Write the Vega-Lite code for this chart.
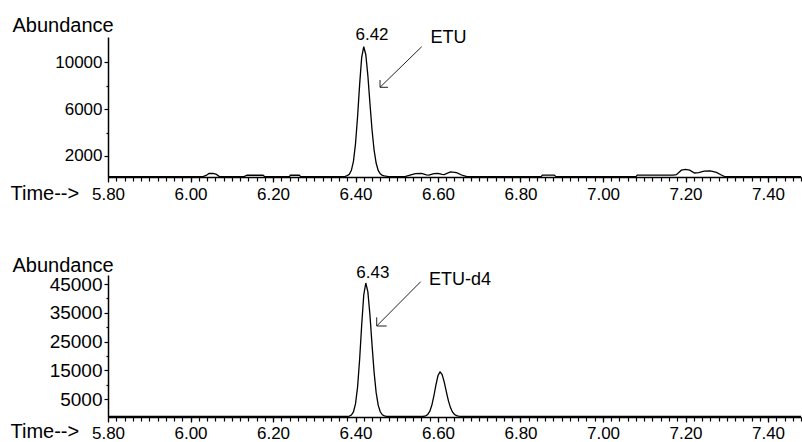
{
  "$schema": "https://vega.github.io/schema/vega-lite/v6.json",
  "autosize": {"type": "pad"},
  "padding": {"left": 10, "top": 15, "right": 1, "bottom": 0},
  "background": "white",
  "bounds": "flush",
  "spacing": 98,
  "config": {
    "font": "Liberation Sans",
    "view": {"stroke": null},
    "axis": {"grid": false, "domainColor": "black", "tickColor": "black", "labelColor": "black", "titleColor": "black", "titleFontWeight": "normal", "domainWidth": 1.5, "tickWidth": 1.2}
  },
  "datasets": {
    "etu": [
      {"t": 5.8, "a": 230}, {"t": 5.9, "a": 230}, {"t": 6.0, "a": 230}, {"t": 6.03, "a": 230},
      {"t": 6.038, "a": 330}, {"t": 6.045, "a": 500}, {"t": 6.055, "a": 510}, {"t": 6.063, "a": 420},
      {"t": 6.07, "a": 240}, {"t": 6.13, "a": 230}, {"t": 6.137, "a": 350}, {"t": 6.176, "a": 350},
      {"t": 6.18, "a": 230}, {"t": 6.24, "a": 230}, {"t": 6.242, "a": 350}, {"t": 6.264, "a": 350},
      {"t": 6.267, "a": 230}, {"t": 6.37, "a": 230}, {"t": 6.375, "a": 260}, {"t": 6.38, "a": 323},
      {"t": 6.385, "a": 438}, {"t": 6.39, "a": 765}, {"t": 6.395, "a": 1540}, {"t": 6.4, "a": 3031},
      {"t": 6.405, "a": 5341}, {"t": 6.41, "a": 8092}, {"t": 6.415, "a": 10413}, {"t": 6.42, "a": 11330},
      {"t": 6.425, "a": 10645}, {"t": 6.43, "a": 8844}, {"t": 6.435, "a": 6501}, {"t": 6.44, "a": 4258},
      {"t": 6.445, "a": 2523}, {"t": 6.45, "a": 1393}, {"t": 6.455, "a": 765}, {"t": 6.46, "a": 467},
      {"t": 6.465, "a": 343}, {"t": 6.47, "a": 290}, {"t": 6.48, "a": 235}, {"t": 6.52, "a": 230},
      {"t": 6.53, "a": 330}, {"t": 6.545, "a": 480}, {"t": 6.56, "a": 500}, {"t": 6.572, "a": 380},
      {"t": 6.578, "a": 360}, {"t": 6.59, "a": 480}, {"t": 6.6, "a": 500}, {"t": 6.61, "a": 420},
      {"t": 6.615, "a": 400}, {"t": 6.63, "a": 640}, {"t": 6.645, "a": 580}, {"t": 6.66, "a": 330},
      {"t": 6.67, "a": 230}, {"t": 6.85, "a": 230}, {"t": 6.853, "a": 360}, {"t": 6.882, "a": 360},
      {"t": 6.886, "a": 230}, {"t": 7.08, "a": 230}, {"t": 7.083, "a": 360}, {"t": 7.17, "a": 360},
      {"t": 7.178, "a": 400}, {"t": 7.19, "a": 780}, {"t": 7.2, "a": 850}, {"t": 7.21, "a": 780},
      {"t": 7.222, "a": 540}, {"t": 7.232, "a": 580}, {"t": 7.245, "a": 700}, {"t": 7.26, "a": 720},
      {"t": 7.275, "a": 600}, {"t": 7.288, "a": 350}, {"t": 7.295, "a": 230}, {"t": 7.48, "a": 230}
    ],
    "d4": [
      {"t": 5.8, "a": -1000}, {"t": 6.0, "a": -1000}, {"t": 6.2, "a": -1000}, {"t": 6.38, "a": -1000},
      {"t": 6.385, "a": -900}, {"t": 6.39, "a": -546}, {"t": 6.395, "a": 545}, {"t": 6.4, "a": 3360},
      {"t": 6.405, "a": 9200}, {"t": 6.41, "a": 18800}, {"t": 6.415, "a": 30760}, {"t": 6.42, "a": 41200},
      {"t": 6.425, "a": 45370}, {"t": 6.43, "a": 42300}, {"t": 6.435, "a": 34240}, {"t": 6.44, "a": 24040},
      {"t": 6.445, "a": 14490}, {"t": 6.45, "a": 7350}, {"t": 6.455, "a": 2930}, {"t": 6.46, "a": 610},
      {"t": 6.465, "a": -425}, {"t": 6.47, "a": -820}, {"t": 6.475, "a": -950}, {"t": 6.48, "a": -1000},
      {"t": 6.565, "a": -940}, {"t": 6.57, "a": -778}, {"t": 6.575, "a": -320}, {"t": 6.58, "a": 767},
      {"t": 6.585, "a": 2860}, {"t": 6.59, "a": 6100}, {"t": 6.595, "a": 9960}, {"t": 6.6, "a": 13210},
      {"t": 6.605, "a": 14500}, {"t": 6.61, "a": 13540}, {"t": 6.615, "a": 11010}, {"t": 6.62, "a": 7730},
      {"t": 6.625, "a": 4580}, {"t": 6.63, "a": 2150}, {"t": 6.635, "a": 560}, {"t": 6.64, "a": -320},
      {"t": 6.645, "a": -738}, {"t": 6.65, "a": -910}, {"t": 6.655, "a": -1000}, {"t": 7.0, "a": -1000},
      {"t": 7.48, "a": -1000}
    ],
    "labels": [
      {"panel": "top", "kind": "rt", "x": 6.44, "y": 11904, "label": "6.42"},
      {"panel": "top", "kind": "name", "x": 6.582, "y": 11622, "label": "ETU"},
      {"panel": "bottom", "kind": "rt", "x": 6.442, "y": 47000, "label": "6.43"},
      {"panel": "bottom", "kind": "name", "x": 6.578, "y": 44675, "label": "ETU-d4"}
    ],
    "arrows": [
      {"panel": "top", "x1": 6.5605, "y1": 11331, "x2": 6.4594, "y2": 7863},
      {"panel": "top", "x1": 6.4594, "y1": 8487, "x2": 6.4594, "y2": 7863},
      {"panel": "top", "x1": 6.4594, "y1": 7863, "x2": 6.4788, "y2": 7863},
      {"panel": "bottom", "x1": 6.558, "y1": 45820, "x2": 6.4514, "y2": 30425},
      {"panel": "bottom", "x1": 6.4514, "y1": 33450, "x2": 6.4514, "y2": 30425},
      {"panel": "bottom", "x1": 6.4514, "y1": 30425, "x2": 6.4756, "y2": 30425}
    ]
  },
  "vconcat": [
    {
      "width": 693,
      "height": 140,
      "resolve": {"axis": {"x": "independent", "y": "independent"}},
      "layer": [
        {
          "data": {"name": "etu"},
          "mark": {"type": "line", "color": "black", "strokeWidth": 1.3},
          "encoding": {
            "x": {"field": "t", "type": "quantitative", "scale": {"domain": [5.8, 7.48], "nice": false, "zero": false},
              "axis": {"orient": "bottom", "values": [5.8, 6.0, 6.2, 6.4, 6.6, 6.8, 7.0, 7.2, 7.4], "format": ".2f", "labelFlush": false, "labelOverlap": false, "labelBaseline": "alphabetic", "labelPadding": 17, "tickSize": 5, "labelFontSize": 17, "title": "Time-->", "titleX": -98, "titleY": 22, "titleAlign": "left", "titleBaseline": "alphabetic", "titleFontSize": 20}},
            "y": {"field": "a", "type": "quantitative", "scale": {"domain": [200, 12160], "nice": false, "zero": false},
              "axis": {"orient": "left", "values": [2000, 6000, 10000], "format": "d", "title": "Abundance", "titleAngle": 0, "titleAlign": "left", "titleBaseline": "alphabetic", "titleX": -96, "titleY": -6, "titleFontSize": 20, "labelFontSize": 17, "tickSize": 4, "labelPadding": 2}}
          }
        },
        {
          "data": {"name": "arrows"},
          "transform": [{"filter": "datum.panel === 'top'"}],
          "mark": {"type": "rule", "color": "#222222", "strokeWidth": 1},
          "encoding": {
            "x": {"field": "x1", "type": "quantitative", "scale": {"domain": [5.8, 7.48], "nice": false, "zero": false},
              "axis": {"orient": "bottom", "values": [5.8,5.82,5.84,5.86,5.88,5.9,5.92,5.94,5.96,5.98,6,6.02,6.04,6.06,6.08,6.1,6.12,6.14,6.16,6.18,6.2,6.22,6.24,6.26,6.28,6.3,6.32,6.34,6.36,6.38,6.4,6.42,6.44,6.46,6.48,6.5,6.52,6.54,6.56,6.58,6.6,6.62,6.64,6.66,6.68,6.7,6.72,6.74,6.76,6.78,6.8,6.82,6.84,6.86,6.88,6.9,6.92,6.94,6.96,6.98,7,7.02,7.04,7.06,7.08,7.1,7.12,7.14,7.16,7.18,7.2,7.22,7.24,7.26,7.28,7.3,7.32,7.34,7.36,7.38,7.4,7.42,7.44,7.46,7.48], "labels": false, "domain": false, "tickSize": 4, "title": null}},
            "x2": {"field": "x2"},
            "y": {"field": "y1", "type": "quantitative", "scale": {"domain": [200, 12160], "nice": false, "zero": false},
              "axis": {"orient": "left", "values": [4000, 8000], "labels": false, "domain": false, "tickSize": 2, "title": null}},
            "y2": {"field": "y2"}
          }
        },
        {
          "data": {"name": "labels"},
          "transform": [{"filter": "datum.panel === 'top' && datum.kind === 'rt'"}],
          "mark": {"type": "text", "fontSize": 17, "align": "center", "baseline": "alphabetic", "color": "black"},
          "encoding": {
            "x": {"field": "x", "type": "quantitative", "scale": {"domain": [5.8, 7.48], "nice": false, "zero": false}, "axis": null},
            "y": {"field": "y", "type": "quantitative", "scale": {"domain": [200, 12160], "nice": false, "zero": false}, "axis": null},
            "text": {"field": "label"}
          }
        },
        {
          "data": {"name": "labels"},
          "transform": [{"filter": "datum.panel === 'top' && datum.kind === 'name'"}],
          "mark": {"type": "text", "fontSize": 18, "align": "left", "baseline": "alphabetic", "color": "black"},
          "encoding": {
            "x": {"field": "x", "type": "quantitative", "scale": {"domain": [5.8, 7.48], "nice": false, "zero": false}, "axis": null},
            "y": {"field": "y", "type": "quantitative", "scale": {"domain": [200, 12160], "nice": false, "zero": false}, "axis": null},
            "text": {"field": "label"}
          }
        }
      ]
    },
    {
      "width": 693,
      "height": 142,
      "resolve": {"axis": {"x": "independent", "y": "independent"}},
      "layer": [
        {
          "data": {"name": "d4"},
          "mark": {"type": "line", "color": "black", "strokeWidth": 1.3},
          "encoding": {
            "x": {"field": "t", "type": "quantitative", "scale": {"domain": [5.8, 7.48], "nice": false, "zero": false},
              "axis": {"orient": "bottom", "values": [5.8, 6.0, 6.2, 6.4, 6.6, 6.8, 7.0, 7.2, 7.4], "format": ".2f", "labelFlush": false, "labelOverlap": false, "labelBaseline": "alphabetic", "labelPadding": 16, "tickSize": 5, "labelFontSize": 17, "title": "Time-->", "titleX": -98, "titleY": 20, "titleAlign": "left", "titleBaseline": "alphabetic", "titleFontSize": 20}},
            "y": {"field": "a", "type": "quantitative", "scale": {"domain": [-1200, 48150], "nice": false, "zero": false},
              "axis": {"orient": "left", "values": [5000, 15000, 25000, 35000, 45000], "format": "d", "title": "Abundance", "titleAngle": 0, "titleAlign": "left", "titleBaseline": "alphabetic", "titleX": -96, "titleY": -4, "titleFontSize": 20, "titleFont": "Liberation Sans", "labelFont": "Liberation Sans Narrow, Liberation Sans", "labelFontSize": 19, "tickSize": 4, "labelPadding": 2}}
          }
        },
        {
          "data": {"name": "arrows"},
          "transform": [{"filter": "datum.panel === 'bottom'"}],
          "mark": {"type": "rule", "color": "#222222", "strokeWidth": 1},
          "encoding": {
            "x": {"field": "x1", "type": "quantitative", "scale": {"domain": [5.8, 7.48], "nice": false, "zero": false},
              "axis": {"orient": "bottom", "values": [5.8,5.82,5.84,5.86,5.88,5.9,5.92,5.94,5.96,5.98,6,6.02,6.04,6.06,6.08,6.1,6.12,6.14,6.16,6.18,6.2,6.22,6.24,6.26,6.28,6.3,6.32,6.34,6.36,6.38,6.4,6.42,6.44,6.46,6.48,6.5,6.52,6.54,6.56,6.58,6.6,6.62,6.64,6.66,6.68,6.7,6.72,6.74,6.76,6.78,6.8,6.82,6.84,6.86,6.88,6.9,6.92,6.94,6.96,6.98,7,7.02,7.04,7.06,7.08,7.1,7.12,7.14,7.16,7.18,7.2,7.22,7.24,7.26,7.28,7.3,7.32,7.34,7.36,7.38,7.4,7.42,7.44,7.46,7.48], "labels": false, "domain": false, "tickSize": 4, "title": null}},
            "x2": {"field": "x2"},
            "y": {"field": "y1", "type": "quantitative", "scale": {"domain": [-1200, 48150], "nice": false, "zero": false},
              "axis": {"orient": "left", "values": [10000, 20000, 30000, 40000], "labels": false, "domain": false, "tickSize": 2, "title": null}},
            "y2": {"field": "y2"}
          }
        },
        {
          "data": {"name": "labels"},
          "transform": [{"filter": "datum.panel === 'bottom' && datum.kind === 'rt'"}],
          "mark": {"type": "text", "fontSize": 17, "align": "center", "baseline": "alphabetic", "color": "black"},
          "encoding": {
            "x": {"field": "x", "type": "quantitative", "scale": {"domain": [5.8, 7.48], "nice": false, "zero": false}, "axis": null},
            "y": {"field": "y", "type": "quantitative", "scale": {"domain": [-1200, 48150], "nice": false, "zero": false}, "axis": null},
            "text": {"field": "label"}
          }
        },
        {
          "data": {"name": "labels"},
          "transform": [{"filter": "datum.panel === 'bottom' && datum.kind === 'name'"}],
          "mark": {"type": "text", "fontSize": 18, "align": "left", "baseline": "alphabetic", "color": "black"},
          "encoding": {
            "x": {"field": "x", "type": "quantitative", "scale": {"domain": [5.8, 7.48], "nice": false, "zero": false}, "axis": null},
            "y": {"field": "y", "type": "quantitative", "scale": {"domain": [-1200, 48150], "nice": false, "zero": false}, "axis": null},
            "text": {"field": "label"}
          }
        }
      ]
    }
  ]
}
